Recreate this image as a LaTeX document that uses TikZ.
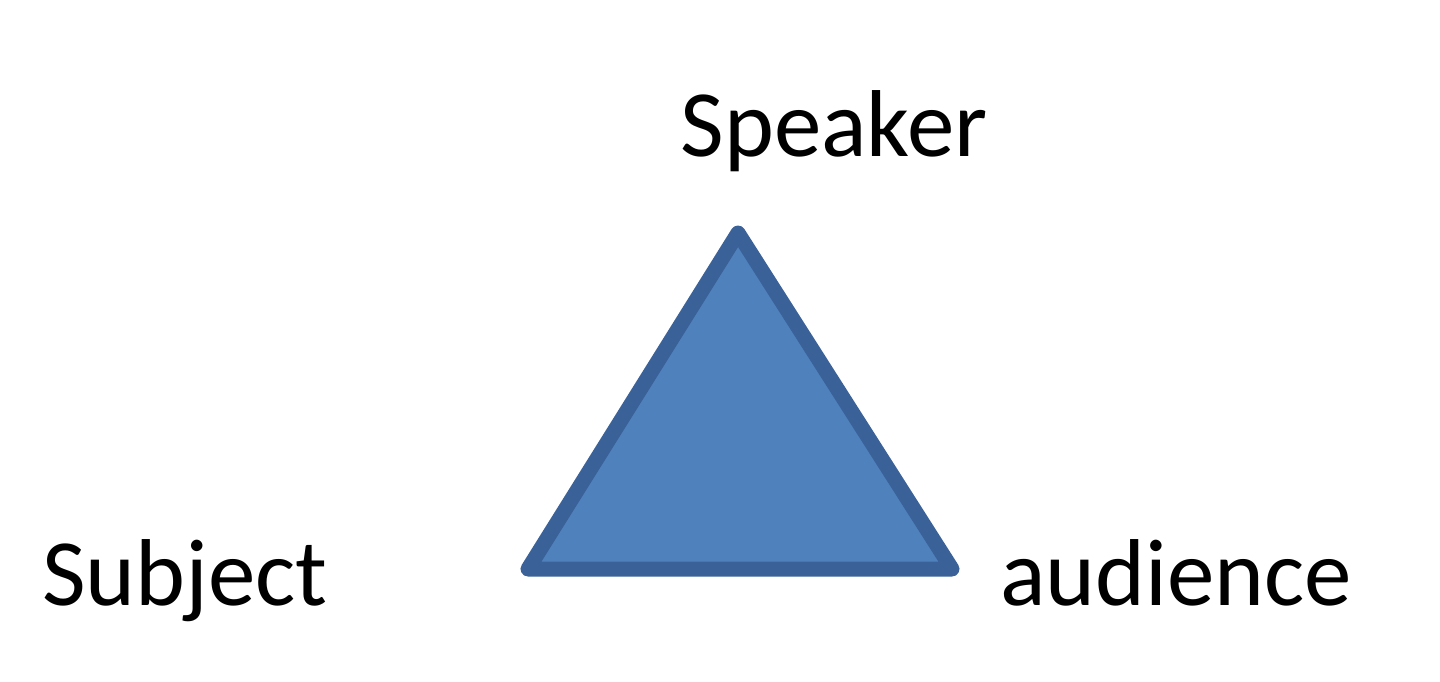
\documentclass[tikz,border=0pt]{standalone}
\usepackage{fontspec}
\setmainfont{Carlito}
\usepackage{tikz}
\usetikzlibrary{positioning}

\begin{document}
\begin{tikzpicture}[x=1pt,y=-1pt]
		% Styles
		\tikzset{
			corner/.style={fill=triFill, draw=triLine, line width=15pt, line join=round},
			label/.style={font=\fontsize{95}{110}\selectfont, text=black, inner sep=0pt}
		}
		\definecolor{triFill}{HTML}{4F81BD}
		\definecolor{triLine}{HTML}{3A6299}

		% Canvas
		\useasboundingbox (0,0) rectangle (1440,682);

		% Triangle Coordinates
		\coordinate (S) at (738,233);
		\coordinate (L) at (528,569);
		\coordinate (R) at (952,569);

		% Draw Triangle
		\draw[corner] (S) -- (L) -- (R) -- cycle;

		% Labels
		\node[label, anchor=base] (speaker) at (834,157) {Speaker};
		\node[label, anchor=base west] (subject) at (42,605) {Subject};
		\node[label, anchor=base west] (audience) at (1000,605) {audience};

	\end{tikzpicture}
\end{document}
